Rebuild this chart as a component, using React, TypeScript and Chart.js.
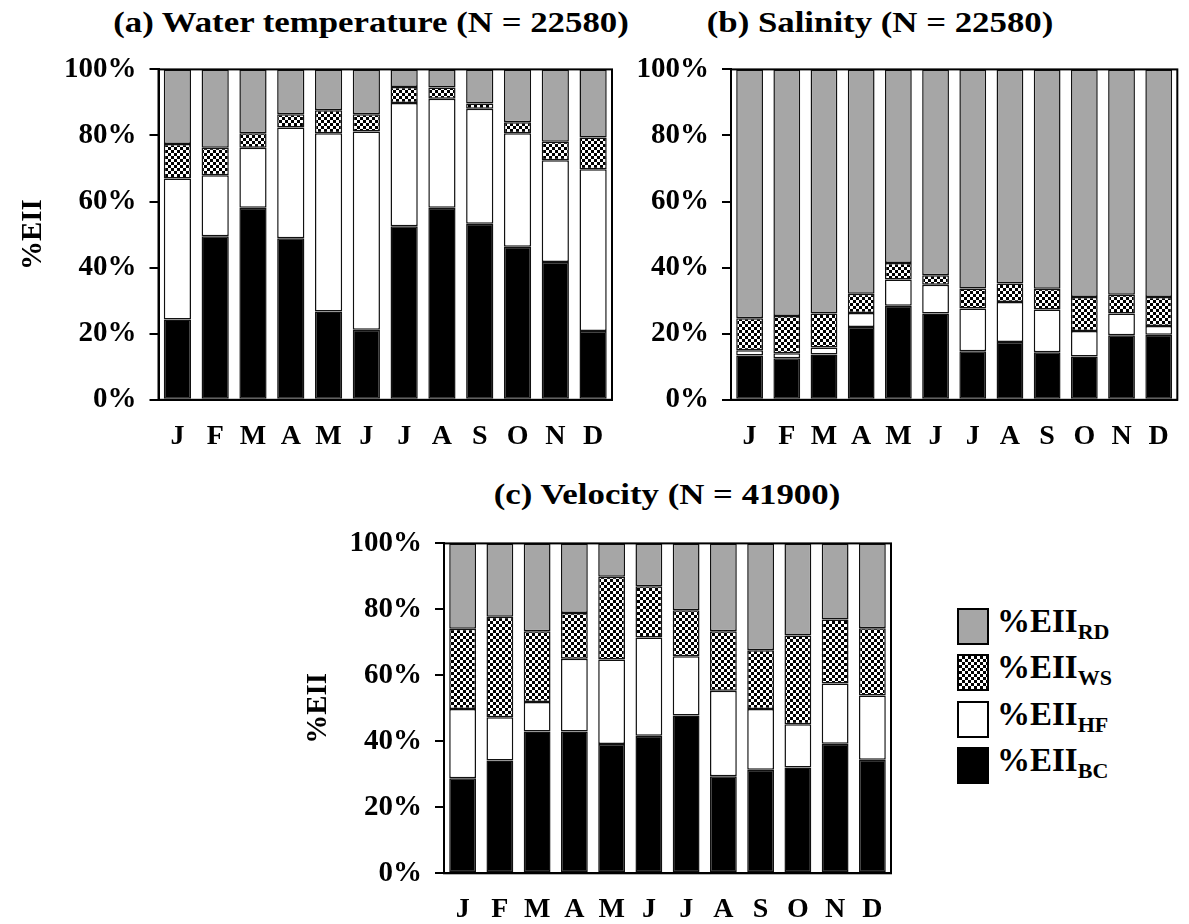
import React, { useEffect, useRef } from 'react';
import { Chart, registerables } from 'chart.js';

Chart.register(...registerables);

const FONT = '"Liberation Serif", "Times New Roman", serif';

// ---- data ----
const months = ['J', 'F', 'M', 'A', 'M', 'J', 'J', 'A', 'S', 'O', 'N', 'D'];
const yTicks = [0, 20, 40, 60, 80, 100];

// (a) Water temperature, % of EII per component
const tempBC = [24.3, 49.5, 58.1, 48.9, 26.7, 21.2, 52.5, 58.1, 53.3, 46.3, 41.7, 20.8];
const tempHF = [42.7, 18.5, 18.2, 33.5, 54.0, 60.0, 37.3, 33.0, 34.8, 34.4, 30.8, 49.0];
const tempWS = [10.4, 8.3, 4.4, 4.0, 6.9, 5.2, 4.9, 3.4, 1.6, 3.3, 5.6, 9.6];
const tempRD = [22.6, 23.7, 19.3, 13.6, 12.4, 13.6, 5.3, 5.5, 10.3, 16.0, 21.9, 20.6];

// (b) Salinity
const salBC = [13.4, 12.6, 13.7, 22.0, 28.5, 26.1, 14.7, 17.5, 14.4, 13.1, 19.5, 19.7];
const salHF = [1.6, 1.5, 2.1, 4.3, 7.9, 8.7, 12.9, 12.1, 12.9, 7.7, 6.6, 2.6];
const salWS = [9.7, 11.3, 10.3, 5.8, 5.0, 2.9, 6.1, 5.6, 6.3, 10.3, 5.7, 8.8];
const salRD = [75.3, 74.6, 73.9, 67.9, 58.6, 62.3, 66.3, 64.8, 66.4, 68.9, 68.2, 68.9];

// (c) Velocity
const velBC = [28.8, 34.2, 43.0, 43.0, 39.2, 41.7, 47.8, 29.4, 31.4, 32.1, 39.3, 34.4];
const velHF = [21.0, 13.1, 8.9, 22.0, 25.6, 29.8, 18.0, 25.9, 18.4, 13.1, 18.2, 19.5];
const velWS = [24.3, 30.5, 21.5, 13.9, 25.1, 15.5, 13.9, 18.1, 17.8, 26.9, 19.4, 20.4];
const velRD = [25.9, 22.2, 26.6, 21.1, 10.1, 13.0, 20.3, 26.6, 32.4, 27.9, 23.1, 25.7];

const legendMain = '%EII';
const legendSubs = ['RD', 'WS', 'HF', 'BC'];

const titleA = '(a) Water temperature (N = 22580)';
const titleB = '(b) Salinity (N = 22580)';
const titleC = '(c) Velocity (N = 41900)';
const yTitle = '%EII';

const GRAY = '#a6a6a6';

function makeChecker(): CanvasPattern | string {
  const c = document.createElement('canvas');
  c.width = 6;
  c.height = 6;
  const g = c.getContext('2d');
  if (!g) return '#666';
  g.fillStyle = '#fff';
  g.fillRect(0, 0, 6, 6);
  g.fillStyle = '#000';
  g.fillRect(0, 0, 3, 3);
  g.fillRect(3, 3, 3, 3);
  return g.createPattern(c, 'repeat') || '#666';
}

const frameBorder = {
  id: 'frameBorder',
  afterDatasetsDraw(chart: any) {
    const { ctx, chartArea } = chart;
    const { left, top, right, bottom } = chartArea;
    ctx.save();
    ctx.strokeStyle = '#000';
    ctx.lineWidth = 2;
    ctx.strokeRect(left, top, right - left, bottom - top);
    ctx.restore();
  },
};

type PanelProps = {
  left: number;
  top: number;
  width: number;
  height: number;
  padTop: number;
  padRight: number;
  padBottom: number;
  yWidth: number;
  xHeight: number;
  showYTitle: boolean;
  yTitlePad: number;
  bc: number[];
  hf: number[];
  ws: number[];
  rd: number[];
};

function Panel(p: PanelProps) {
  const ref = useRef<HTMLCanvasElement | null>(null);
  useEffect(() => {
    if (!ref.current) return;
    const pattern = makeChecker();
    const common = {
      borderColor: '#111',
      borderWidth: 1.5,
      borderSkipped: false,
      barPercentage: 0.72,
      categoryPercentage: 1,
    };
    const chart = new Chart(ref.current, {
      type: 'bar',
      data: {
        labels: months,
        datasets: [
          { label: 'BC', data: p.bc, backgroundColor: '#000', ...common },
          { label: 'HF', data: p.hf, backgroundColor: '#fff', ...common },
          { label: 'WS', data: p.ws, backgroundColor: pattern as any, ...common },
          { label: 'RD', data: p.rd, backgroundColor: GRAY, ...common },
        ],
      },
      options: {
        animation: false,
        responsive: false,
        devicePixelRatio: 1,
        layout: { padding: { left: 0, top: p.padTop, right: p.padRight, bottom: p.padBottom } },
        plugins: {
          legend: { display: false },
          title: { display: false },
          tooltip: { enabled: false },
        },
        scales: {
          x: {
            stacked: true,
            grid: { display: false, drawTicks: false },
            border: { display: true, color: '#000', width: 2 },
            ticks: {
              font: { family: FONT, size: 28, weight: 'bold' },
              color: '#000',
              padding: 20,
              maxRotation: 0,
              autoSkip: false,
            },
            afterFit: (s: any) => {
              s.height = p.xHeight;
            },
          },
          y: {
            stacked: true,
            min: 0,
            max: 100,
            afterBuildTicks: (s: any) => {
              s.ticks = yTicks.map((v) => ({ value: v }));
            },
            ticks: {
              callback: (v: any) => v + '%',
              font: { family: FONT, size: 29, weight: 'bold' },
              color: '#000',
              padding: 13,
            },
            grid: {
              drawOnChartArea: false,
              drawTicks: true,
              tickLength: 9,
              color: '#000',
              lineWidth: 2,
            },
            border: { display: true, color: '#000', width: 2 },
            title: {
              display: p.showYTitle,
              text: yTitle,
              font: { family: FONT, size: 29, weight: 'bold' },
              color: '#000',
              padding: { top: p.yTitlePad, bottom: 0 },
            },
            afterFit: (s: any) => {
              s.width = p.yWidth;
            },
          },
        },
      } as any,
      plugins: [frameBorder],
    });
    return () => chart.destroy();
  }, []);
  return (
    <canvas
      ref={ref}
      width={p.width}
      height={p.height}
      style={{ position: 'absolute', left: p.left, top: p.top, width: p.width, height: p.height }}
    />
  );
}

function Title({ text, cx, cy }: { text: string; cx: number; cy: number }) {
  return (
    <div
      style={{
        position: 'absolute',
        left: cx - 350,
        top: cy - 18,
        width: 700,
        height: 36,
        lineHeight: '36px',
        textAlign: 'center',
        fontFamily: FONT,
        fontWeight: 'bold',
        fontSize: 30,
        color: '#000',
        whiteSpace: 'nowrap',
        transform: 'scaleX(1.16)',
        transformOrigin: '50% 50%',
      }}
    >
      {text}
    </div>
  );
}

function Legend() {
  const fills = [GRAY, 'checker', '#fff', '#000'];
  return (
    <div style={{ position: 'absolute', left: 957, top: 603 }}>
      {legendSubs.map((s, i) => (
        <div key={s} style={{ display: 'flex', alignItems: 'center', height: 46.5 }}>
          <div
            style={{
              width: 32,
              height: 37,
              border: '2px solid #000',
              boxSizing: 'border-box',
              background:
                fills[i] === 'checker'
                  ? 'repeating-conic-gradient(#000 0% 25%, #fff 0% 50%) 0 0 / 6px 6px'
                  : fills[i],
            }}
          />
          <div
            style={{
              marginLeft: 8,
              fontFamily: FONT,
              fontWeight: 'bold',
              fontSize: 33,
              color: '#000',
              lineHeight: '36px',
              whiteSpace: 'nowrap',
            }}
          >
            {legendMain}
            <sub style={{ fontSize: 22, verticalAlign: '-0.3em' }}>{s}</sub>
          </div>
        </div>
      ))}
    </div>
  );
}

export default function App() {
  return (
    <div style={{ position: 'absolute', left: 0, top: 0, width: 1189, height: 924, background: '#fff', overflow: 'hidden' }}>
      <Title text={titleA} cx={371} cy={22} />
      <Title text={titleB} cx={880} cy={22} />
      <Title text={titleC} cx={667} cy={494} />
      <Panel
        left={0}
        top={38.5}
        width={700}
        height={432}
        padTop={0}
        padRight={88}
        padBottom={11.2}
        yWidth={158.5}
        xHeight={60}
        showYTitle={true}
        yTitlePad={16}
        bc={tempBC}
        hf={tempHF}
        ws={tempWS}
        rd={tempRD}
      />
      <Panel
        left={580}
        top={38.5}
        width={609}
        height={432}
        padTop={0}
        padRight={4}
        padBottom={11.2}
        yWidth={151}
        xHeight={60}
        showYTitle={false}
        yTitlePad={0}
        bc={salBC}
        hf={salHF}
        ws={salWS}
        rd={salRD}
      />
      <Panel
        left={280}
        top={513}
        width={660}
        height={411}
        padTop={0}
        padRight={49}
        padBottom={0}
        yWidth={164}
        xHeight={50.7}
        showYTitle={true}
        yTitlePad={21}
        bc={velBC}
        hf={velHF}
        ws={velWS}
        rd={velRD}
      />
      <Legend />
    </div>
  );
}
